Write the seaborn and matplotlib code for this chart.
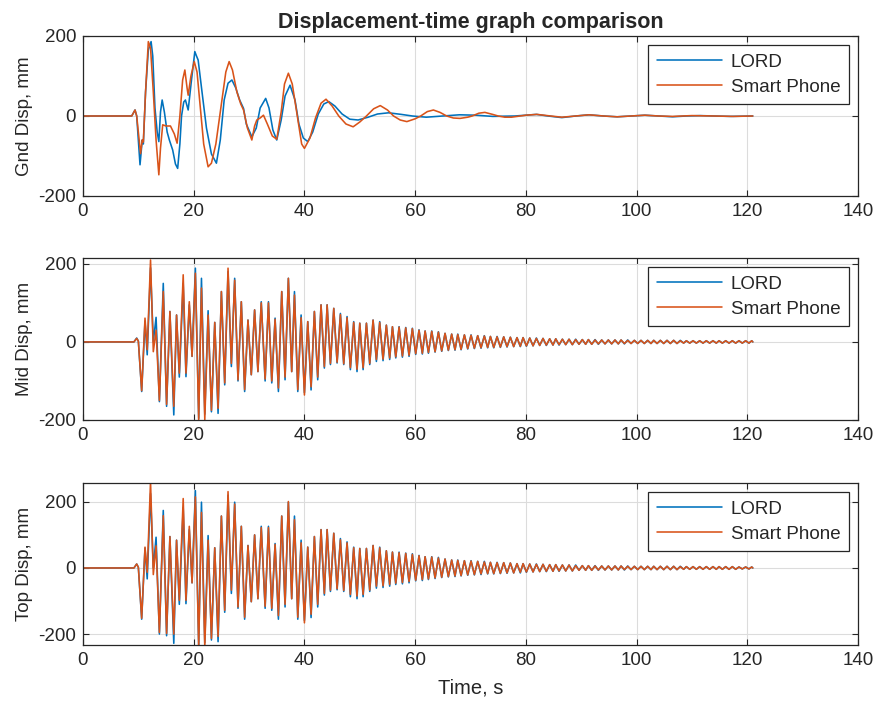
import numpy as np
import pandas as pd
import matplotlib
matplotlib.use("Agg")
import matplotlib.pyplot as plt
import seaborn as sns

# ---- ground floor record ----
t_gnd_lord = [0, 8.8, 9.4, 9.7, 10.3, 10.7, 10.9, 11.3, 11.8, 12.3, 12.6, 13.0, 13.4, 13.7,
              14.0, 14.3, 14.7, 15.2, 15.6, 16.2, 16.7, 17.1, 17.5, 17.8, 18.2, 18.5, 19.0,
              19.6, 20.2, 20.5, 20.8, 21.5, 22.3, 23.2, 24.1, 24.8, 25.5, 26.2, 26.9, 27.6,
              28.3, 29.0, 29.5, 30.5, 31.3, 32.0, 33.0, 33.6, 34.3, 35.0, 35.8, 36.5, 37.4,
              38.3, 39.0, 39.8, 40.6, 41.5, 42.5, 43.5, 44.4, 45.5, 46.8, 48.2, 49.7, 51.5,
              53.2, 55.2, 57.5, 59.5, 62.0, 65.0, 68.0, 71.0, 74.0, 78.0, 81.9, 84.0, 86.5,
              89.0, 91.4, 94.0, 96.5, 99.0, 101.5, 104.0, 106.5, 109.0, 111.5, 114.0, 117.0,
              121.0]
gnd_lord = [0, 0, 15, 0, -122, -60, -70, 60, 165, 186, 150, 20, -40, -64,
            10, 40, 10, -40, -60, -85, -120, -131, -70, 0, 35, 40, 15,
            90, 161, 150, 140, 60, -30, -95, -118, -60, 40, 82, 90, 70,
            40, 19, -20, -52, -30, 20, 44, 20, -35, -60, -10, 50, 77,
            40, -20, -55, -64, -40, 5, 30, 36, 25, 5, -8, -10, -3,
            5, 8, 4, 0, -3, 0, 3, 2, -1, 0, 4, 0, -4,
            0, 3, 0, -2, 0, 2, 0, -2, 0, 1, 0, -1,
            0]

t_gnd_phone = [0, 8.8, 9.4, 9.7, 10.4, 10.7, 10.9, 11.3, 11.8, 12.2, 12.7, 13.2, 13.7, 14.0,
               14.4, 15.0, 15.8, 16.5, 17.0, 17.5, 18.0, 18.4, 18.8, 19.0, 19.5, 20.1, 20.6,
               21.2, 21.8, 22.6, 23.2, 24.0, 25.0, 25.8, 26.4, 27.0, 27.8, 28.5, 29.0, 29.7,
               30.5, 31.0, 31.4, 32.0, 32.6, 33.3, 34.2, 35.0, 35.8, 36.4, 37.1, 37.8, 38.6,
               39.5, 40.0, 41.0, 42.0, 43.0, 43.9, 45.0, 46.2, 47.5, 48.8, 50.0, 51.2, 52.5,
               53.7, 55.0, 56.1, 57.3, 58.5, 60.0, 61.0, 62.2, 63.3, 64.5, 65.7, 66.9, 68.1,
               69.5, 70.3, 71.5, 72.6, 74.0, 75.0, 76.2, 77.4, 80.0, 82.0, 84.5, 86.5, 89.0,
               91.4, 94.0, 96.5, 99.0, 101.5, 104.0, 106.5, 110.0, 114.0, 117.5, 121.0]
gnd_phone = [0, 0, 15, 0, -94, -60, -65, 60, 186, 170, 60, -60, -147, -80,
             -22, -25, -25, -45, -68, 0, 90, 115, 70, 52, 100, 136, 110,
             20, -70, -127, -118, -70, 30, 110, 136, 115, 60, 30, 15, -30,
             -60, -25, -10, -5, 2, -20, -50, -58, 10, 80, 107, 80, 10,
             -70, -81, -55, -5, 32, 42, 25, 0, -20, -27, -15, 0, 18,
             26, 15, 0, -10, -14, -7, 0, 11, 15, 9, 0, -5, -6,
             -3, 0, 7, 9, 4, 0, -3, -3, 2, 4, 0, -3, 0,
             3, 0, -2, 0, 2, 0, -1, 1, 0, -1, 0]

# ---- mid and top floor records: times of the peaks / troughs ----
t_ext = [0.0, 9.2, 9.7, 10.0, 10.6, 11.2, 11.6, 12.2, 12.7, 13.2,
         13.8, 14.5, 15.1, 15.7, 16.4, 16.9, 17.4, 18.1, 18.6, 19.2,
         19.7, 20.3, 20.9, 21.4, 22.0, 22.6, 23.2, 23.8, 24.4, 25.0,
         25.6, 26.2, 26.8, 27.4, 28.0, 28.6, 29.2, 29.8, 30.4, 31.0,
         31.6, 32.2, 32.9, 33.5, 34.1,
         34.7, 35.3, 35.9, 36.5, 37.1, 37.7, 38.2, 38.8, 39.4, 40.0,
         40.6, 41.2, 41.8, 42.4, 43.0, 43.6, 44.1, 44.7, 45.3, 45.9,
         46.5, 47.1, 47.7, 48.3, 48.9, 49.5, 50.0, 50.6, 51.2, 51.8,
         52.4, 53.0, 53.6, 54.2, 54.8, 55.4, 55.9, 56.5, 57.1, 57.7,
         58.3, 58.9, 59.5, 60.1, 60.7, 61.3, 61.8, 62.4, 63.0, 63.6,
         64.2, 64.8, 65.4, 66.0, 66.6, 67.2, 67.7, 68.3, 68.9, 69.5,
         70.1, 70.7, 71.3, 71.9, 72.5, 73.1, 73.6, 74.2, 74.8, 75.4,
         76.0, 76.6, 77.2, 77.8, 78.4, 79.0, 79.5, 80.1, 80.7, 81.3,
         81.9, 82.5, 83.1, 83.7, 84.3, 84.9, 85.4, 86.0, 86.6, 87.2,
         87.8, 88.4, 89.0, 89.6, 90.2, 90.8, 91.3, 91.9, 92.5, 93.1,
         93.7, 94.3, 94.9, 95.5, 96.1, 96.7, 97.2, 97.8, 98.4, 99.0,
         99.6, 100.2, 100.8, 101.4, 102.0, 102.6, 103.1, 103.7, 104.3, 104.9,
         105.5, 106.1, 106.7, 107.3, 107.9, 108.5, 109.0, 109.6, 110.2, 110.8,
         111.4, 112.0, 112.6, 113.2, 113.8, 114.4, 114.9, 115.5, 116.1, 116.7,
         117.3, 117.9, 118.5, 119.1, 119.7, 120.3, 120.8, 121.0]

mid_lord = [0, 0, 10, 2, -127, 53, -33, 190, 0, 63,
            -153, 150, -165, 78, -187, 69, -90, 150, -89, 95,
            -37, 189, -196, 163, -185, 80, -179, 50, -183, 129,
            -110, 180, -63, 163, -100, 103, -127, 56, -84, 82,
            -76, 103, -100, 103, -105,
            61, -127, 129, -97, 163, -76, 129, -127, 69, -130,
            52, -123, 78, -97, 95, -67, 95, -58, 86, -54,
            73, -58, 65, -71, 52, -76, 48, -71, 48, -58,
            56, -50, 52, -48, 43, -45, 39, -41, 39, -39,
            37, -37, 35, -32, 31, -31, 28, -29, 28, -26,
            26, -24, 22, -22, 20, -21, 20, -20, 18, -18,
            18, -17, 16, -16, 16, -15, 14, -15, 14, -14,
            13, -13, 12, -12, 11, -12, 11, -11, 10, -10,
            10, -9, 9, -9, 8, -8, 8, -8, 7, -7,
            7, -7, 7, -6, 6, -6, 6, -6, 6, -6,
            5, -5, 5, -5, 5, -5, 5, -5, 5, -4,
            4, -4, 4, -4, 4, -4, 4, -4, 4, -4,
            4, -4, 4, -4, 4, -3, 3, -3, 3, -3,
            3, -3, 3, -3, 3, -3, 3, -3, 3, -3,
            3, -3, 3, -3, 3, -3, 3, 0]

mid_phone = [0, 0, 9, 2, -125, 61, -20, 210, -25, 30,
             -150, 129, -160, 78, -165, 69, -80, 172, -80, 103,
             -37, 176, -200, 138, -200, 69, -175, 50, -170, 129,
             -105, 189, -55, 158, -97, 103, -122, 56, -84, 82,
             -76, 100, -95, 100, -100,
             58, -118, 129, -90, 163, -76, 120, -122, 62, -136,
             52, -115, 78, -90, 95, -63, 95, -55, 86, -52,
             70, -56, 62, -66, 50, -70, 48, -66, 48, -55,
             56, -45, 50, -44, 43, -41, 39, -38, 38, -36,
             36, -34, 34, -30, 30, -29, 28, -27, 27, -25,
             25, -23, 22, -21, 20, -20, 19, -19, 18, -17,
             17, -16, 16, -15, 15, -14, 14, -14, 13, -13,
             13, -12, 12, -12, 11, -11, 11, -10, 10, -10,
             9, -9, 9, -8, 8, -8, 8, -7, 7, -7,
             7, -7, 6, -6, 6, -6, 6, -6, 5, -5,
             5, -5, 5, -5, 5, -5, 5, -4, 4, -4,
             4, -4, 4, -4, 4, -4, 4, -4, 4, -4,
             4, -4, 4, -4, 3, -3, 3, -3, 3, -3,
             3, -3, 3, -3, 3, -3, 3, -3, 3, -3,
             3, -3, 3, -3, 3, -3, 3, 0]

top_lord = [0, 0, 12, 2, -155, 60, -33, 225, 0, 93,
            -200, 174, -205, 95, -228, 84, -110, 183, -108, 116,
            -45, 234, -235, 199, -226, 98, -218, 61, -223, 157,
            -134, 220, -77, 199, -122, 126, -155, 68, -102, 100,
            -93, 126, -122, 126, -128,
            74, -155, 157, -118, 199, -93, 157, -155, 84, -159,
            63, -150, 95, -118, 116, -82, 116, -71, 105, -66,
            89, -71, 79, -87, 63, -93, 59, -87, 59, -71,
            68, -61, 63, -59, 52, -55, 48, -50, 48, -48,
            45, -45, 43, -39, 38, -38, 34, -35, 34, -32,
            32, -29, 27, -27, 24, -26, 24, -24, 22, -22,
            22, -21, 20, -20, 20, -18, 17, -18, 17, -17,
            16, -16, 15, -15, 13, -15, 13, -13, 12, -12,
            12, -11, 11, -11, 10, -10, 10, -10, 9, -9,
            9, -9, 9, -7, 7, -7, 7, -7, 7, -7,
            6, -6, 6, -6, 6, -6, 6, -6, 6, -5,
            5, -5, 5, -5, 5, -5, 5, -5, 5, -5,
            5, -5, 5, -5, 5, -4, 4, -4, 4, -4,
            4, -4, 4, -4, 4, -4, 4, -4, 4, -4,
            4, -4, 3, -3, 3, -3, 3, 0]

top_phone = [0, 0, 12, 2, -152, 63, -13, 262, -20, 67,
             -195, 158, -198, 95, -200, 84, -98, 210, -98, 126,
             -45, 215, -240, 168, -240, 84, -213, 61, -207, 157,
             -128, 231, -67, 193, -118, 126, -149, 68, -102, 100,
             -93, 122, -116, 122, -122,
             71, -144, 157, -110, 201, -93, 146, -149, 76, -166,
             63, -140, 95, -110, 116, -77, 116, -67, 105, -63,
             85, -68, 76, -80, 61, -85, 59, -80, 59, -67,
             68, -55, 61, -54, 52, -50, 48, -46, 46, -44,
             44, -41, 41, -37, 37, -35, 34, -33, 33, -30,
             30, -28, 27, -26, 24, -24, 23, -23, 22, -21,
             21, -20, 20, -18, 18, -17, 17, -17, 16, -16,
             16, -15, 15, -15, 13, -13, 13, -12, 12, -12,
             11, -11, 11, -10, 10, -10, 10, -9, 9, -9,
             9, -9, 7, -7, 7, -7, 7, -7, 6, -6,
             6, -6, 6, -6, 6, -6, 6, -5, 5, -5,
             5, -5, 5, -5, 5, -5, 5, -5, 5, -5,
             5, -5, 5, -5, 4, -4, 4, -4, 4, -4,
             4, -4, 4, -4, 4, -4, 4, -4, 4, -4,
             4, -4, 3, -3, 3, -3, 3, 0]

series_names = ["LORD", "Smart Phone"]
ylabels = ["Gnd Disp, mm", "Mid Disp, mm", "Top Disp, mm"]

for arr in (mid_lord, mid_phone, top_lord, top_phone):
    assert len(arr) == len(t_ext), (len(arr), len(t_ext))
assert len(t_gnd_lord) == len(gnd_lord)
assert len(t_gnd_phone) == len(gnd_phone)

sns.set_theme(style="ticks")
plt.rcParams["font.family"] = ["Liberation Sans", "DejaVu Sans"]
plt.rcParams["axes.unicode_minus"] = False

blue = "#0072BD"
orange = "#D95319"
ink = "#262626"

fig = plt.figure(figsize=(8.79, 7.09), dpi=100)
left, width = 83 / 879, 775 / 879
boxes = [(196, 160), (420, 162), (645, 162)]
axes = [fig.add_axes([left, 1 - b / 709, width, h / 709]) for b, h in boxes]

panels = [
    ((t_gnd_lord, gnd_lord), (t_gnd_phone, gnd_phone), (-200, 200)),
    ((t_ext, mid_lord), (t_ext, mid_phone), (-200, 215)),
    ((t_ext, top_lord), (t_ext, top_phone), (-233, 257)),
]

for ax, (lord, phone, ylim), ylab in zip(axes, panels, ylabels):
    sns.lineplot(x=lord[0], y=lord[1], ax=ax, color=blue, lw=1.15,
                 estimator=None, sort=False, label=series_names[0])
    sns.lineplot(x=phone[0], y=phone[1], ax=ax, color=orange, lw=1.15,
                 estimator=None, sort=False, label=series_names[1])
    ax.set_xlim(0, 140)
    ax.set_ylim(*ylim)
    ax.set_xticks(np.arange(0, 141, 20))
    ax.set_yticks([-200, 0, 200])
    ax.grid(True, color="#dcdcdc", lw=0.8)
    ax.set_axisbelow(True)
    ax.tick_params(direction="in", top=True, right=True, labelsize=13.5,
                   length=4, width=0.8, colors=ink, pad=5)
    for sp in ax.spines.values():
        sp.set_color(ink)
        sp.set_linewidth(0.9)
    ax.set_ylabel(ylab, fontsize=13.5, color=ink, labelpad=4)
    ax.set_xlabel("")
    leg = ax.legend(loc="upper right", fontsize=13.5, frameon=True, fancybox=False,
                    edgecolor=ink, framealpha=1, handlelength=3.5,
                    handletextpad=0.45, borderaxespad=0.5, labelspacing=0.4,
                    borderpad=0.45)
    leg.get_frame().set_linewidth(0.9)

axes[0].set_title("Displacement-time graph comparison", fontsize=15.5,
                  fontweight="bold", pad=6)
axes[2].set_xlabel("Time, s", fontsize=14.5, color=ink, labelpad=7)

fig.savefig("out.png", dpi=100)
